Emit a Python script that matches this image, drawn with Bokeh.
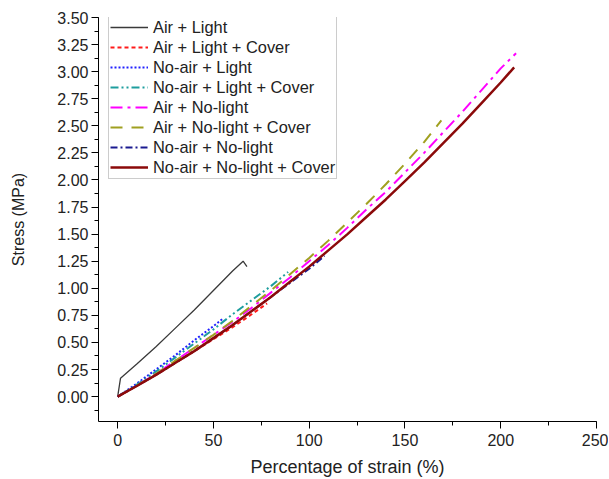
from bokeh.plotting import figure
from bokeh.models import Range1d, SingleIntervalTicker, NumeralTickFormatter
from bokeh.embed import file_html
from bokeh.resources import INLINE

# ---- data ----
air_light_x = [0, 1.5, 10, 20, 30, 40, 50, 60, 65.5, 67.5]
air_light_y = [0, 0.17, 0.30, 0.46, 0.63, 0.80, 0.98, 1.16, 1.25, 1.20]

air_light_cover_x = [0, 10, 20, 30, 40, 50, 60, 70, 78]
air_light_cover_y = [0, 0.10, 0.20, 0.31, 0.42, 0.53, 0.64, 0.76, 0.86]

noair_light_x = [0, 10, 20, 30, 40, 50, 55]
noair_light_y = [0, 0.12, 0.25, 0.38, 0.52, 0.65, 0.72]

noair_light_cover_x = [0, 10, 20, 30, 40, 50, 60, 70, 80, 89]
noair_light_cover_y = [0, 0.11, 0.23, 0.36, 0.49, 0.62, 0.76, 0.89, 1.02, 1.15]

air_nolight_x = [0, 10, 20, 30, 40, 50, 60, 70, 80, 90, 100, 110, 120, 130, 140,
                 150, 160, 170, 180, 190, 200, 208]
air_nolight_y = [0, 0.10, 0.21, 0.33, 0.45, 0.57, 0.69, 0.82, 0.96, 1.10, 1.25, 1.40,
                 1.56, 1.73, 1.89, 2.07, 2.25, 2.44, 2.63, 2.83, 3.03, 3.17]

air_nolight_cover_x = [0, 10, 20, 30, 40, 50, 60, 70, 80, 90, 100, 110, 120, 130,
                       140, 150, 160, 169]
air_nolight_cover_y = [0, 0.10, 0.21, 0.33, 0.45, 0.57, 0.70, 0.84, 0.98, 1.13, 1.28,
                       1.44, 1.61, 1.78, 1.96, 2.15, 2.35, 2.55]

noair_nolight_x = [0, 10, 20, 30, 40, 50, 60, 70, 80, 90, 100, 108]
noair_nolight_y = [0, 0.10, 0.20, 0.31, 0.42, 0.54, 0.66, 0.79, 0.92, 1.05, 1.18, 1.30]

noair_nolight_cover_x = [0, 10, 20, 30, 40, 50, 60, 70, 80, 90, 100, 110, 120, 130,
                         140, 150, 160, 170, 180, 190, 200, 207]
noair_nolight_cover_y = [0, 0.098, 0.20, 0.31, 0.42, 0.54, 0.66, 0.79, 0.92, 1.06, 1.20,
                         1.35, 1.50, 1.66, 1.82, 1.99, 2.16, 2.34, 2.52, 2.71, 2.90, 3.04]

FONT = "Liberation Sans"

p = figure(width=608, height=479, output_backend="svg", toolbar_location=None,
           x_range=Range1d(-10, 250), y_range=Range1d(-0.23, 3.5),
           min_border_left=98, min_border_right=12, min_border_top=17,
           min_border_bottom=57)
p.outline_line_color = None
p.xgrid.visible = False
p.ygrid.visible = False
p.background_fill_color = "white"
p.border_fill_color = "white"

series = [
    (air_light_x, air_light_y, "Air + Light", "#3a3a3a", "solid", 1.3),
    (air_light_cover_x, air_light_cover_y, "Air + Light + Cover", "#ff1a1a", "4 3", 2),
    (noair_light_x, noair_light_y, "No-air + Light", "#2020ff", "2 2", 2),
    (noair_light_cover_x, noair_light_cover_y, "No-air + Light + Cover", "#1e9e9e", "8 3 2 3 2 3", 2),
    (air_nolight_x, air_nolight_y, "Air + No-light", "#ff00ff", "12 5 3 5", 2),
    (air_nolight_cover_x, air_nolight_cover_y, "Air + No-light + Cover", "#a0a020", "12 9", 2),
    (noair_nolight_x, noair_nolight_y, "No-air + No-light", "#1a1a90", "7 3 2 3", 2),
    (noair_nolight_cover_x, noair_nolight_cover_y, "No-air + No-light + Cover", "#8b0a0a", "solid", 2.5),
]
for xs, ys, lab, col, dash, w in series:
    p.line(xs, ys, line_color=col, line_dash=dash, line_width=w, legend_label=lab)

# axes
p.xaxis.ticker = SingleIntervalTicker(interval=50, num_minor_ticks=2)
p.yaxis.ticker = SingleIntervalTicker(interval=0.25, num_minor_ticks=2)
p.yaxis.formatter = NumeralTickFormatter(format="0.00")
for ax in (p.xaxis[0], p.yaxis[0]):
    ax.axis_line_color = "black"
    ax.axis_line_width = 1
    ax.major_tick_in = 0
    ax.major_tick_out = 7
    ax.minor_tick_in = 0
    ax.minor_tick_out = 4
    ax.major_tick_line_color = "black"
    ax.minor_tick_line_color = "black"
    ax.major_label_text_font = FONT
    ax.major_label_text_font_size = "16px"
    ax.major_label_text_color = "#222222"
    ax.axis_label_text_font = FONT
    ax.axis_label_text_font_style = "normal"
    ax.axis_label_text_color = "#222222"

p.xaxis.axis_label = "Percentage of strain (%)"
p.xaxis.axis_label_text_font_size = "18px"
p.xaxis.major_label_standoff = 5
p.xaxis.axis_label_standoff = 8
p.yaxis.axis_label = "Stress (MPa)"
p.yaxis.axis_label_text_font_size = "16px"
p.yaxis.major_label_standoff = 3
p.yaxis.axis_label_standoff = 27

# legend
lg = p.legend[0]
lg.location = (10, 242)
lg.label_text_font = FONT
lg.label_text_font_size = "16.4px"
lg.label_text_color = "#222222"
lg.glyph_width = 38
lg.glyph_height = 20
lg.label_height = 20
lg.spacing = 0
lg.padding = 1
lg.margin = 0
lg.label_standoff = 5
lg.border_line_color = "#999999"
lg.border_line_width = 1
lg.background_fill_color = "white"
lg.background_fill_alpha = 1.0

open("out.html", "w").write(file_html(p, INLINE))
